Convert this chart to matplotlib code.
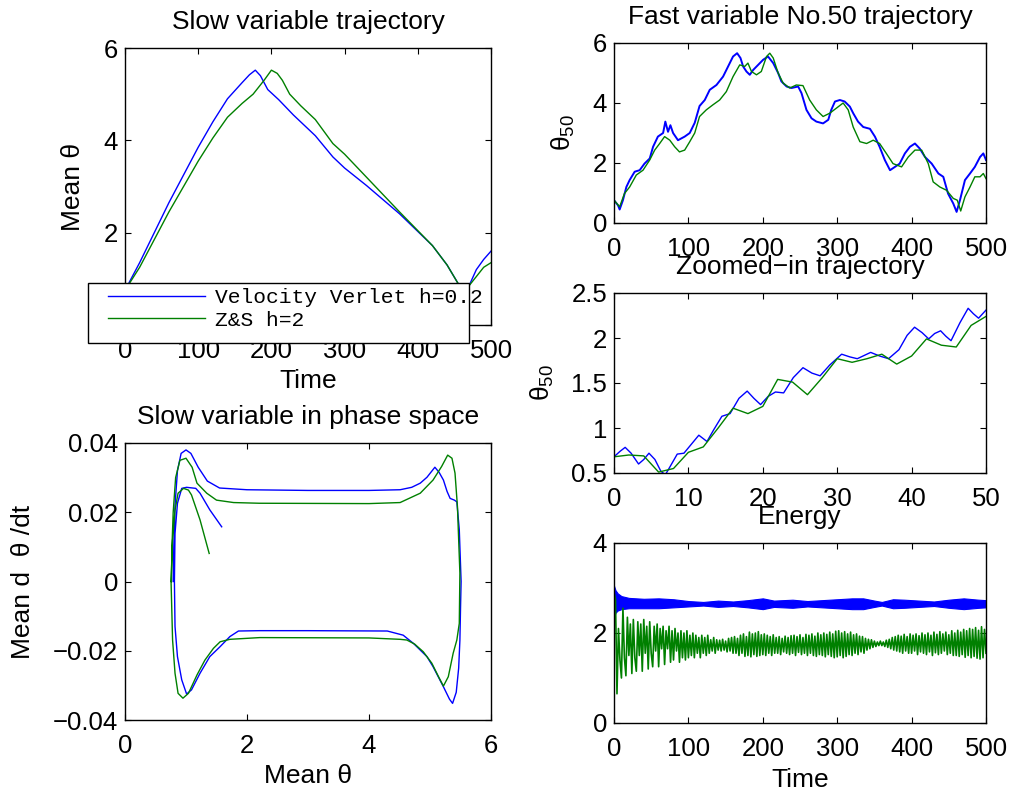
import numpy as np
import matplotlib
matplotlib.use('Agg')
import matplotlib.pyplot as plt
from matplotlib.ticker import FuncFormatter
from matplotlib.patches import Rectangle

plt.rcParams['font.family'] = ['Liberation Sans', 'DejaVu Sans']
plt.rcParams['mathtext.fontset'] = 'custom'
plt.rcParams['mathtext.rm'] = 'Liberation Sans'
plt.rcParams['xtick.labelsize'] = 18.5
plt.rcParams['ytick.labelsize'] = 18.5
plt.rcParams['axes.labelsize'] = 19
plt.rcParams['axes.titlesize'] = 19

BLUE = (0, 0, 1)
GREEN = (0, 0.5, 0)

# slow variable trajectory (mean theta vs time)
slow_t_vv = [0, 10, 20, 40, 60, 80, 100, 120, 140, 160, 170, 178, 185, 195, 210, 230,
             260, 284, 300, 330, 375, 420, 440, 455, 462, 470, 480, 490, 500]
slow_vv = [0.75, 1.05, 1.35, 2.0, 2.65, 3.25, 3.85, 4.4, 4.9, 5.25, 5.42, 5.52, 5.4,
           5.1, 4.88, 4.55, 4.1, 3.64, 3.4, 3.02, 2.41, 1.72, 1.3, 0.9, 0.72, 0.85,
           1.2, 1.42, 1.6]
slow_t_zs = [0, 10, 20, 40, 60, 80, 100, 120, 140, 160, 175, 190, 200, 208, 215, 225,
             240, 260, 284, 300, 330, 375, 420, 440, 455, 462, 470, 480, 490, 500]
slow_zs = [0.75, 1.0, 1.25, 1.85, 2.45, 3.0, 3.55, 4.05, 4.5, 4.8, 5.0, 5.3, 5.52, 5.45,
           5.3, 5.0, 4.75, 4.45, 3.93, 3.7, 3.2, 2.45, 1.72, 1.3, 0.9, 0.72, 0.85, 1.05,
           1.25, 1.35]

# phase space (mean theta, mean dtheta/dt)
ph_th_vv = [0.79, 0.80, 0.82, 0.86, 0.92, 1.00, 1.08, 1.20, 1.35, 1.55, 2.00, 3.00, 4.00,
            4.51, 4.70, 4.84, 4.95, 5.08, 5.15, 5.22, 5.28, 5.33, 5.40, 5.44, 5.48, 5.50,
            5.51, 5.50, 5.49, 5.47, 5.43, 5.37, 5.32, 5.22, 5.05, 4.95, 4.84, 4.73, 4.56,
            4.30, 3.00, 2.21, 1.86, 1.72, 1.56, 1.39, 1.23, 1.09, 1.01, 0.93, 0.86, 0.82,
            0.81, 0.82, 0.86, 0.93, 1.01, 1.16, 1.23, 1.39, 1.585]
ph_v_vv = [0.0, 0.010, 0.022, 0.032, 0.037, 0.038, 0.037, 0.033, 0.029, 0.027, 0.0265,
           0.0263, 0.0263, 0.0265, 0.0272, 0.0284, 0.0301, 0.033, 0.0315, 0.0293, 0.026,
           0.024, 0.0235, 0.023, 0.015, 0.005, 0.0, -0.008, -0.017, -0.025, -0.032,
           -0.0352, -0.034, -0.0304, -0.0246, -0.0217, -0.0198, -0.0179, -0.0155, -0.0143,
           -0.0142, -0.0142, -0.0143, -0.0159, -0.0188, -0.0217, -0.0265, -0.0313, -0.0325,
           -0.0284, -0.0217, -0.013, 0.0, 0.0139, 0.0226, 0.0269, 0.0272, 0.0269, 0.0255,
           0.0207, 0.0158]
ph_th_zs = [0.76, 0.77, 0.79, 0.83, 0.90, 1.00, 1.10, 1.18, 1.34, 1.50, 1.78, 2.20, 4.00,
            4.51, 4.84, 5.05, 5.19, 5.29, 5.36, 5.41, 5.45, 5.49, 5.48, 5.44, 5.38, 5.30,
            5.22, 5.14, 5.03, 4.89, 4.75, 4.62, 4.51, 4.00, 2.21, 1.72, 1.56, 1.45, 1.31,
            1.18, 1.04, 0.95, 0.87, 0.82, 0.78, 0.755, 0.78, 0.82, 0.87, 0.96, 1.04, 1.09,
            1.23, 1.38]
ph_v_zs = [0.0, 0.010, 0.020, 0.030, 0.035, 0.0356, 0.033, 0.0284, 0.0255, 0.0235, 0.0228,
           0.0226, 0.0225, 0.0228, 0.0255, 0.0293, 0.0332, 0.0365, 0.0356, 0.0313, 0.0216,
           0.0024, -0.0121, -0.0169, -0.0207, -0.0275, -0.0302, -0.0275, -0.0236, -0.0203,
           -0.0181, -0.0169, -0.0167, -0.0163, -0.0162, -0.0167, -0.0174, -0.0193, -0.0227,
           -0.027, -0.0323, -0.0337, -0.0323, -0.0265, -0.0169, 0.0, 0.012, 0.0206, 0.0255,
           0.0269, 0.0264, 0.025, 0.0178, 0.0081]

# fast variable No.50
fast_t_vv = [0, 5.4, 7.6, 12, 16.6, 21, 27.8, 34.5, 41, 48, 52.5, 59, 66, 69, 72.6, 75.8,
             79.4, 86, 95, 101.8, 108.5, 115, 122, 128.7, 137.7, 146.6, 153, 160, 165.5,
             170, 173.5, 178, 182.5, 187, 193.7, 200.4, 207, 214, 220.6, 225, 232, 238.6,
             247.5, 252, 258.7, 265.5, 272, 281, 288, 292, 297, 303.6, 310, 317, 321.5,
             328, 335, 344, 350.7, 357, 364, 371, 377.6, 384, 391, 397.8, 404.5, 411, 418,
             427, 436, 442.6, 449, 456, 460.5, 465, 471.7, 478.5, 485, 492, 496.4, 500]
fast_vv = [0.76, 0.59, 0.45, 0.76, 1.2, 1.43, 1.71, 1.76, 1.98, 2.15, 2.54, 2.88, 3.0,
           3.38, 3.04, 3.26, 3.0, 2.76, 2.88, 3.0, 3.34, 3.9, 4.1, 4.44, 4.6, 4.88, 5.2,
           5.55, 5.66, 5.5, 5.22, 5.05, 4.94, 5.1, 5.27, 5.44, 5.55, 5.33, 5.0, 4.72, 4.55,
           4.5, 4.55, 4.33, 3.77, 3.49, 3.38, 3.32, 3.44, 3.77, 4.05, 4.1, 4.05, 3.88, 3.66,
           3.38, 3.2, 3.14, 2.88, 2.54, 2.1, 1.76, 1.87, 1.98, 2.32, 2.54, 2.65, 2.48, 2.2,
           1.98, 1.65, 1.54, 0.98, 0.65, 0.37, 0.76, 1.43, 1.65, 1.87, 2.2, 2.32, 2.1]
fast_t_zs = [0, 7.6, 14, 21, 30, 39, 48, 54.7, 61.4, 68, 75, 81.6, 88, 95, 101.8, 108.5,
             115, 124, 133, 142, 151, 160, 169, 175.8, 180, 184.8, 191.5, 198, 205, 209.4,
             214, 220.6, 227.4, 236.3, 245, 254, 263, 272, 281, 290, 299, 308, 314.8,
             321.5, 330.5, 339.5, 348.4, 357, 366, 375, 386.5, 395.5, 404.5, 413.5, 422.4,
             429, 438, 447, 456, 461.4, 466, 471.7, 478.5, 485, 492, 496.4, 500]
fast_zs = [0.76, 0.54, 0.98, 1.2, 1.6, 1.76, 2.1, 2.43, 2.65, 2.88, 2.76, 2.54, 2.37, 2.43,
           2.71, 3.0, 3.55, 3.77, 3.94, 4.1, 4.38, 4.88, 5.27, 5.22, 5.33, 5.05, 4.94, 5.05,
           5.55, 5.66, 5.5, 5.0, 4.66, 4.5, 4.6, 4.58, 4.1, 3.77, 3.55, 3.66, 3.83, 4.0,
           3.77, 3.2, 2.71, 2.65, 2.76, 2.65, 2.32, 1.98, 1.87, 2.2, 2.43, 2.43, 1.98, 1.37,
           1.2, 1.09, 0.82, 0.76, 0.4, 0.87, 1.2, 1.54, 1.54, 1.65, 1.48]

# zoomed-in trajectory, first 50 time units
zoom_t_vv = [0, 0.8, 1.5, 2.3, 3.3, 4.0, 4.7, 5.5, 6.3, 6.9, 7.6, 8.5, 9.4, 10.4, 11.4,
             12.5, 13.4, 14.5, 15.6, 16.8, 17.9, 18.8, 19.7, 20.7, 21.7, 22.8, 24.1, 25.4,
             26.6, 27.7, 29.0, 30.6, 31.7, 32.7, 34.5, 35.7, 36.9, 38.3, 39.4, 40.4, 41.4,
             42.3, 43.1, 43.9, 44.6, 45.3, 46.5, 47.6, 48.3, 49.0, 50]
zoom_vv = [0.68, 0.74, 0.785, 0.72, 0.60, 0.65, 0.72, 0.65, 0.52, 0.48, 0.58, 0.71, 0.72,
           0.82, 0.92, 0.85, 0.98, 1.13, 1.16, 1.33, 1.41, 1.33, 1.26, 1.35, 1.40, 1.39,
           1.56, 1.67, 1.61, 1.58, 1.70, 1.82, 1.79, 1.77, 1.84, 1.80, 1.77, 1.87, 2.03,
           2.12, 2.06, 1.99, 2.05, 2.08, 2.02, 1.97, 2.17, 2.33, 2.27, 2.22, 2.31]
zoom_t_zs = [0, 2, 4, 6, 8, 10, 12, 14, 16, 18, 20, 22, 24, 26, 28, 30, 32, 34, 36, 38, 40,
             42, 44, 46, 48, 50]
zoom_zs = [0.68, 0.70, 0.69, 0.51, 0.55, 0.73, 0.79, 1.0, 1.22, 1.16, 1.24, 1.54, 1.51,
           1.37, 1.56, 1.77, 1.73, 1.77, 1.82, 1.71, 1.80, 1.99, 1.92, 1.90, 2.14, 2.24]

# energy: velocity verlet band (upper/lower envelope) and Z&S samples every h=2
en_t_vv = [0, 2, 5, 10, 20, 40, 60, 80, 100, 120, 140, 160, 180, 200, 215, 240, 260, 280,
           300, 320, 335, 350, 360, 375, 390, 410, 430, 450, 470, 490, 500]
en_hi_vv = [3.05, 2.95, 2.88, 2.82, 2.78, 2.76, 2.77, 2.75, 2.71, 2.69, 2.72, 2.70, 2.73,
            2.77, 2.72, 2.74, 2.71, 2.73, 2.75, 2.77, 2.77, 2.72, 2.69, 2.75, 2.74, 2.72,
            2.70, 2.74, 2.77, 2.74, 2.73]
en_lo_vv = [2.35, 2.45, 2.50, 2.53, 2.55, 2.55, 2.55, 2.57, 2.59, 2.61, 2.58, 2.60, 2.57,
            2.53, 2.58, 2.56, 2.59, 2.57, 2.55, 2.53, 2.53, 2.58, 2.61, 2.55, 2.56, 2.58,
            2.60, 2.56, 2.53, 2.56, 2.57]
en_t_zs = np.arange(0, 501, 2)
en_zs = [2.90, 2.75, 0.65, 2.10, 1.40, 1.00, 2.55, 1.45, 1.05, 2.35,
         1.50, 2.20, 1.10, 2.30, 1.45, 1.15, 2.25, 1.50, 2.20, 1.15,
         2.30, 1.55, 2.15, 1.20, 2.25, 1.55, 1.25, 2.15, 1.60, 2.20,
         1.25, 2.10, 1.65, 2.15, 1.30, 2.05, 1.65, 2.15, 1.35, 2.05,
         1.40, 2.10, 1.60, 2.00, 1.35, 2.05, 1.45, 2.00, 1.40, 2.05,
         1.45, 1.95, 1.50, 2.00, 1.45, 1.95, 1.55, 1.90, 1.45, 1.95,
         1.55, 1.90, 1.50, 1.95, 1.55, 1.85, 1.60, 1.90, 1.55, 1.85,
         1.62, 1.84, 1.60, 1.86, 1.62, 1.82, 1.58, 1.88, 1.60, 1.90,
         1.55, 1.92, 1.55, 1.88, 1.50, 1.95, 1.55, 1.98, 1.48, 1.92,
         1.50, 2.02, 1.47, 1.98, 1.52, 2.00, 1.48, 2.03, 1.50, 1.96,
         1.52, 1.98, 1.50, 1.95, 1.55, 1.92, 1.50, 1.96, 1.55, 1.90,
         1.55, 1.92, 1.52, 1.88, 1.58, 1.93, 1.55, 1.90, 1.52, 1.94,
         1.55, 1.95, 1.50, 1.92, 1.57, 1.96, 1.52, 1.90, 1.55, 1.97,
         1.50, 1.95, 1.55, 1.98, 1.50, 1.93, 1.48, 2.00, 1.52, 1.96,
         1.50, 2.00, 1.47, 1.97, 1.52, 2.02, 1.48, 1.98, 1.45, 2.04,
         1.47, 2.05, 1.50, 2.00, 1.45, 2.03, 1.48, 1.98, 1.52, 2.02,
         1.50, 1.96, 1.55, 1.98, 1.52, 1.93, 1.58, 1.92, 1.55, 1.88,
         1.62, 1.86, 1.65, 1.85, 1.68, 1.82, 1.70, 1.80, 1.72, 1.82,
         1.72, 1.80, 1.70, 1.84, 1.68, 1.86, 1.65, 1.90, 1.62, 1.92,
         1.60, 1.95, 1.58, 1.93, 1.55, 1.97, 1.60, 1.92, 1.55, 1.98,
         1.55, 1.95, 1.60, 1.98, 1.52, 1.94, 1.58, 2.00, 1.55, 1.96,
         1.52, 2.00, 1.58, 1.95, 1.50, 2.02, 1.56, 1.97, 1.52, 2.03,
         1.55, 1.98, 1.60, 2.02, 1.52, 1.96, 1.55, 2.05, 1.50, 2.00,
         1.50, 2.06, 1.48, 2.02, 1.52, 2.08, 1.46, 2.05, 1.50, 2.10,
         1.45, 2.08, 1.48, 2.12, 1.44, 2.06, 1.42, 2.14, 1.45, 2.08,
         1.55]

W, H = 1011, 794
fig = plt.figure(figsize=(W / 100, H / 100), dpi=100)


def box(l, t, r, b):
    return [l / W, 1 - b / H, (r - l) / W, (b - t) / H]


def style(ax):
    ax.tick_params(direction='in', top=True, right=True, length=4, width=0.8)
    ax.tick_params(axis='x', pad=10)
    ax.tick_params(axis='y', pad=5)
    for s in ax.spines.values():
        s.set_linewidth(1.0)


fmt = FuncFormatter(lambda v, p: f'{v:g}'.replace('-', '\u2212'))

ax1 = fig.add_axes(box(125, 48, 491, 325))
ax2 = fig.add_axes(box(125, 443, 491, 720))
ax3 = fig.add_axes(box(614, 43, 986, 223))
ax4 = fig.add_axes(box(614, 293, 986, 473))
ax5 = fig.add_axes(box(614, 543, 986, 723))

# slow variable trajectory
l1, = ax1.plot(slow_t_vv, slow_vv, color=BLUE, lw=1)
l2, = ax1.plot(slow_t_zs, slow_zs, color=GREEN, lw=1)
ax1.set_xlim(0, 500)
ax1.set_ylim(0, 6)
ax1.set_xticks([0, 100, 200, 300, 400, 500])
ax1.set_yticks([0, 2, 4, 6])
ax1.set_title('Slow variable trajectory', pad=14)
ax1.set_xlabel('Time', va='top')
ax1.xaxis.set_label_coords(0.5, -0.16)
ax1.set_ylabel('Mean θ')
ax1.yaxis.set_label_coords(-0.11, 0.5)
style(ax1)

# legend box (text runs past the frame as in the original)
fig.add_artist(Rectangle((88 / W, 1 - 343 / H), 381 / W, 60 / H, transform=fig.transFigure,
                         facecolor='white', edgecolor='black', lw=1.0, zorder=3))
fig.legend([l1, l2], ['Velocity Verlet h=0.2', 'Z&S h=2'], loc='upper left',
           bbox_to_anchor=(108 / W, 1 - 288 / H), bbox_transform=fig.transFigure,
           prop={'family': 'Liberation Mono', 'size': 15.3}, frameon=False,
           borderaxespad=0, borderpad=0, handlelength=4.56, handletextpad=0.48,
           labelspacing=0.17)

# phase space
ax2.plot(ph_th_vv, ph_v_vv, color=BLUE, lw=1)
ax2.plot(ph_th_zs, ph_v_zs, color=GREEN, lw=1)
ax2.set_xlim(0, 6)
ax2.set_ylim(-0.04, 0.04)
ax2.set_xticks([0, 2, 4, 6])
ax2.set_yticks([-0.04, -0.02, 0, 0.02, 0.04])
ax2.yaxis.set_major_formatter(fmt)
ax2.set_title('Slow variable in phase space', pad=14)
ax2.set_xlabel('Mean θ', va='top')
ax2.xaxis.set_label_coords(0.5, -0.16)
ax2.set_ylabel('Mean d  θ /dt')
ax2.yaxis.set_label_coords(-0.245, 0.5)
style(ax2)

# fast variable
ax3.plot(fast_t_vv, fast_vv, color=BLUE, lw=1.4)
ax3.plot(fast_t_zs, fast_zs, color=GREEN, lw=1)
ax3.set_xlim(0, 500)
ax3.set_ylim(0, 6)
ax3.set_xticks([0, 100, 200, 300, 400, 500])
ax3.set_yticks([0, 2, 4, 6])
ax3.set_title('Fast variable No.50 trajectory', pad=14)
ax3.set_ylabel(r'θ$_{50}$')
ax3.yaxis.set_label_coords(-0.1, 0.5)
style(ax3)

# zoomed-in
ax4.plot(zoom_t_vv, zoom_vv, color=BLUE, lw=1)
ax4.plot(zoom_t_zs, zoom_zs, color=GREEN, lw=1)
ax4.set_xlim(0, 50)
ax4.set_ylim(0.5, 2.5)
ax4.set_xticks([0, 10, 20, 30, 40, 50])
ax4.set_yticks([0.5, 1, 1.5, 2, 2.5])
ax4.yaxis.set_major_formatter(fmt)
ax4.set_title('Zoomed\u2212in trajectory', pad=14)
ax4.set_ylabel(r'θ$_{50}$')
ax4.yaxis.set_label_coords(-0.155, 0.5)
style(ax4)

# energy
ax5.fill_between(en_t_vv, en_lo_vv, en_hi_vv, color=BLUE, lw=0.8)
ax5.plot(en_t_zs, en_zs, color=GREEN, lw=1.2)
ax5.set_xlim(0, 500)
ax5.set_ylim(0, 4)
ax5.set_xticks([0, 100, 200, 300, 400, 500])
ax5.set_yticks([0, 2, 4])
ax5.set_title('Energy', pad=14)
ax5.set_xlabel('Time', va='top')
ax5.xaxis.set_label_coords(0.5, -0.25)
style(ax5)

fig.savefig('out.png', dpi=100)
